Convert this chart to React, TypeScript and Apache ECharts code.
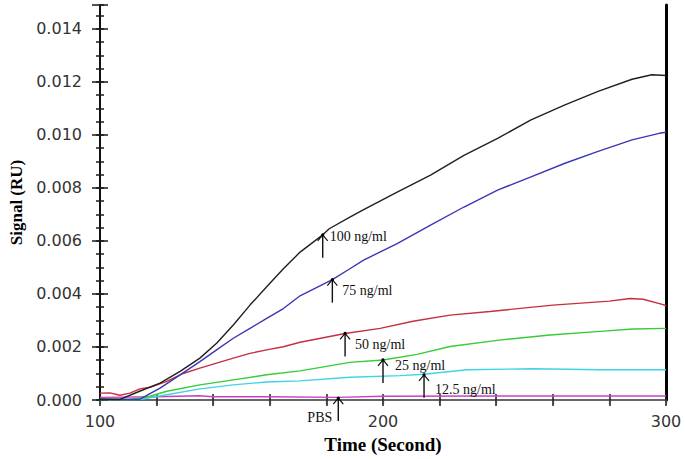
import React, { useEffect, useRef } from "react";
import * as echarts from "echarts";

// Time (s) vs signal (RU)
const s100: [number, number][] = [
  [100, 0.00003], [107, 0.00002], [114, 0.00033], [121.2, 0.00064], [128.3, 0.00108],
  [135.3, 0.00158], [141.2, 0.00214], [147.1, 0.00283], [153, 0.00358], [158.9, 0.00427],
  [164.8, 0.00495], [170.7, 0.00558], [178.7, 0.00623], [181, 0.00646], [188.3, 0.0069],
  [193, 0.00717], [205, 0.00784], [216.8, 0.00848], [228.6, 0.00923], [240.5, 0.00987],
  [252.3, 0.01057], [264.3, 0.01113], [276, 0.01164], [288, 0.0121], [295, 0.01227],
  [300, 0.01224],
];
const s75: [number, number][] = [
  [100, 0.00003], [114, 0.00002], [121.2, 0.00045], [128.3, 0.00095], [135.3, 0.00145],
  [141.2, 0.00189], [147.1, 0.00233], [153, 0.0027], [158.9, 0.00308], [164.8, 0.00345],
  [170.7, 0.00393], [182.1, 0.00454], [188.3, 0.00495], [193, 0.00527], [205, 0.0059],
  [216.8, 0.0066], [228.6, 0.00728], [240.5, 0.00792], [252.3, 0.00842], [264.3, 0.00893],
  [276, 0.00938], [288, 0.00981], [297.6, 0.01006], [300, 0.0101],
];
const s50: [number, number][] = [
  [100, 0.00026], [103.5, 0.00027], [107, 0.00018], [110.6, 0.00026], [114.1, 0.00042],
  [117.7, 0.00048], [123.6, 0.0007], [129.4, 0.001], [135.3, 0.0012], [141.2, 0.00139],
  [147.1, 0.00158], [153, 0.00176], [158.9, 0.00189], [164.8, 0.00201], [170.7, 0.00218],
  [186.6, 0.00251], [199, 0.0027], [210.6, 0.00297], [223.7, 0.0032], [237.8, 0.00334],
  [260, 0.00358], [280, 0.00373], [287.3, 0.00383], [291.9, 0.0038], [299, 0.0036],
  [300, 0.00355],
];
const s25: [number, number][] = [
  [100, 0.00002], [110.6, 0.00002], [117.7, 0.00014], [123.6, 0.00033], [135.3, 0.00057],
  [147.1, 0.00076], [158.9, 0.00095], [170.7, 0.0011], [188.3, 0.00142], [200, 0.00151],
  [212, 0.00172], [223.7, 0.00202], [241, 0.00226], [259, 0.00245], [276.7, 0.00259],
  [288.3, 0.00268], [300, 0.0027],
];
const s125: [number, number][] = [
  [100, 0.00002], [114, 0.00002], [123.6, 0.0002], [135.3, 0.00042], [147.1, 0.00057],
  [158.9, 0.00068], [170.7, 0.00072], [188.3, 0.00086], [206, 0.00092], [214.5, 0.00097],
  [229.7, 0.00114], [253, 0.00118], [276.7, 0.00114], [300, 0.00114],
];
const sPBS: [number, number][] = [
  [100, 0.0001], [120, 0.00012], [135, 0.00016], [140, 0.00012], [160, 0.00012],
  [184.2, 0.0001], [200, 0.00014], [240, 0.00015], [270, 0.00015], [300, 0.00015],
];

const seriesNames = ["100 ng/ml", "75 ng/ml", "50 ng/ml", "25 ng/ml", "12.5 ng/ml", "PBS"];
const seriesData = [s100, s75, s50, s25, s125, sPBS];
const seriesColors = ["#202020", "#3c36b4", "#c4303c", "#36cc36", "#3ed4e4", "#c840c8"];

// Arrow annotations: tip at (t, v), text offset relative to tip
const annotations = [
  { label: "100 ng/ml", t: 178.7, v: 0.00623, dx: 7, dy: 2, align: "left" },
  { label: "75 ng/ml", t: 182.1, v: 0.00454, dx: 10, dy: 11, align: "left" },
  { label: "50 ng/ml", t: 186.6, v: 0.00251, dx: 10, dy: 11, align: "left" },
  { label: "25 ng/ml", t: 200, v: 0.00151, dx: 12, dy: 6, align: "left" },
  { label: "12.5 ng/ml", t: 214.5, v: 0.00095, dx: 11, dy: 15, align: "left" },
  { label: "PBS", t: 184.2, v: 0.000075, dx: -6, dy: 19, align: "right" },
];

const xLabels = [100, 200, 300];
const yLabels = [0, 0.002, 0.004, 0.006, 0.008, 0.01, 0.012, 0.014];

const X_MIN = 100, X_MAX = 300, Y_MIN = 0, Y_MAX = 0.0149;

export default function App() {
  const ref = useRef<HTMLDivElement>(null);
  useEffect(() => {
    if (!ref.current) return;
    const chart = echarts.init(ref.current, undefined, { renderer: "svg" });
    const tickColor = "#1a1a1a";
    const baseY = (extra: any) => ({
      type: "value", min: Y_MIN, max: Y_MAX, position: "left",
      splitLine: { show: false }, axisLabel: { show: false },
      axisLine: { show: false }, ...extra,
    });
    const baseX = (extra: any) => ({
      type: "value", min: X_MIN, max: X_MAX, interval: 20,
      splitLine: { show: false }, axisLabel: { show: false },
      axisLine: { show: false }, ...extra,
    });
    chart.setOption({
      animation: false,
      backgroundColor: "#ffffff",
      grid: { left: 100, right: 19, top: 5, bottom: 57 },
      xAxis: [
        baseX({
          position: "bottom",
          name: "Time (Second)", nameLocation: "middle", nameGap: 35,
          nameTextStyle: { fontFamily: "Liberation Serif", fontWeight: "bold", fontSize: 19, color: "#000" },
          axisLine: { show: true, lineStyle: { color: "#222", width: 2 } },
          axisTick: { show: true, inside: false, length: 6, lineStyle: { color: tickColor, width: 1.5 } },
          axisLabel: {
            show: true, margin: 13, fontFamily: "DejaVu Sans", fontSize: 16, color: "#333",
            formatter: (v: number) => (xLabels.includes(Math.round(v)) ? String(Math.round(v)) : ""),
          },
        }),
        baseX({
          position: "bottom",
          axisTick: { show: true, inside: true, length: 6, lineStyle: { color: tickColor, width: 1.5 } },
        }),
        baseX({
          position: "top",
          axisLine: { show: true, lineStyle: { color: "#666", width: 2 } },
          axisTick: { show: true, inside: true, length: 4, lineStyle: { color: "#444", width: 1.2 } },
        }),
      ],
      yAxis: [
        baseY({
          interval: 0.0005,
          name: "Signal (RU)", nameLocation: "middle", nameGap: 72,
          nameTextStyle: { fontFamily: "Liberation Serif", fontWeight: "bold", fontSize: 17, color: "#000" },
          axisLine: { show: true, lineStyle: { color: "#111", width: 2 } },
          axisTick: { show: true, inside: false, length: 4, lineStyle: { color: tickColor, width: 1.5 } },
          axisLabel: {
            show: true, margin: 18, fontFamily: "DejaVu Sans", fontSize: 16, color: "#333",
            showMaxLabel: false,
            formatter: (v: number) => {
              const hit = yLabels.find((y) => Math.abs(y - v) < 1e-7);
              return hit !== undefined ? hit.toFixed(3) : "";
            },
          },
        }),
        baseY({
          interval: 0.0005,
          axisTick: { show: true, inside: true, length: 4, lineStyle: { color: tickColor, width: 1.5 } },
        }),
        baseY({
          interval: 0.002,
          axisTick: { show: true, inside: false, length: 8, lineStyle: { color: tickColor, width: 1.5 } },
        }),
        baseY({
          interval: 0.002,
          axisTick: { show: true, inside: true, length: 8, lineStyle: { color: tickColor, width: 1.5 } },
        }),
        baseY({
          position: "right",
          axisLine: { show: true, lineStyle: { color: "#000", width: 3 } },
          axisTick: { show: false },
        }),
      ],
      series: seriesData.map((d, i) => ({
        name: seriesNames[i],
        type: "line",
        xAxisIndex: 0,
        yAxisIndex: 0,
        data: d,
        showSymbol: false,
        symbol: "none",
        lineStyle: { color: seriesColors[i], width: 1.4 },
        z: 10 - i,
      })),
    });

    const graphics: any[] = [];
    annotations.forEach((a) => {
      const p = chart.convertToPixel({ xAxisIndex: 0, yAxisIndex: 0 }, [a.t, a.v]) as number[];
      const x = p[0], y = p[1];
      graphics.push({
        type: "line", silent: true, z: 100,
        shape: { x1: x, y1: y, x2: x, y2: y + 23 },
        style: { stroke: "#111", lineWidth: 1.4 },
      });
      graphics.push({
        type: "polyline", silent: true, z: 100,
        shape: { points: [[x - 5, y + 6], [x, y], [x + 5, y + 6]] },
        style: { stroke: "#111", lineWidth: 1.2, fill: null },
      });
      graphics.push({
        type: "circle", silent: true, z: 101,
        shape: { cx: x, cy: y, r: 1.6 },
        style: { fill: "#000" },
      });
      graphics.push({
        type: "text", silent: true, z: 100,
        x: x + a.dx, y: y + a.dy,
        style: {
          text: a.label, fontFamily: "Liberation Serif", fontSize: 14, fill: "#111",
          align: a.align, verticalAlign: "middle",
        },
      });
    });
    chart.setOption({ graphic: graphics });

    return () => chart.dispose();
  }, []);
  return (
    <div
      ref={ref}
      style={{ position: "fixed", left: 0, top: 0, width: 685, height: 459, background: "#fff" }}
    />
  );
}
